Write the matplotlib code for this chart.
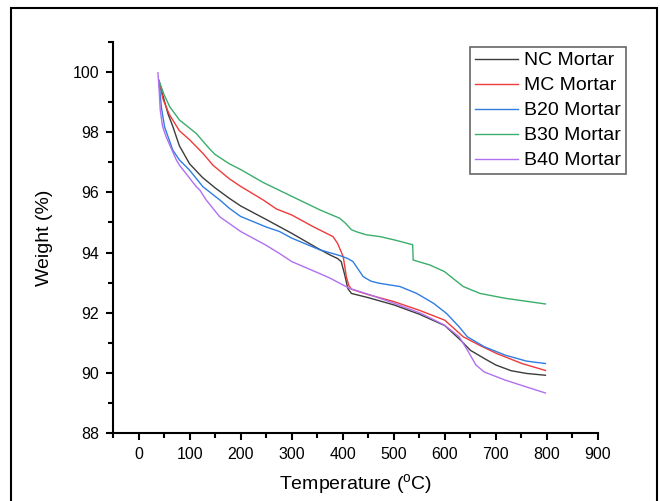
import matplotlib
matplotlib.use("Agg")
import matplotlib.pyplot as plt
from matplotlib.patches import Rectangle
from matplotlib.ticker import MultipleLocator

plt.rcParams['font.family'] = ['Liberation Sans', 'DejaVu Sans']

labels = ["NC Mortar", "MC Mortar", "B20 Mortar", "B30 Mortar", "B40 Mortar"]
colors = ["#3c3c3c", "#f03a3a", "#2f7de0", "#3aae6a", "#b070f0"]

nc_T = [40, 48, 58, 67, 80, 100, 125, 150, 178, 200, 250, 300, 350, 375, 390, 397, 404, 410, 417, 450, 500, 550, 600, 630, 650, 680, 700, 730, 760, 797]
nc_W = [99.72, 99.2, 98.6, 98.2, 97.55, 96.95, 96.5, 96.15, 95.8, 95.55, 95.1, 94.64, 94.15, 93.92, 93.8, 93.7, 93.25, 92.8, 92.64, 92.5, 92.26, 91.95, 91.57, 91.1, 90.75, 90.45, 90.26, 90.07, 89.98, 89.92]

mc_T = [40, 48, 60, 80, 100, 126, 146, 178, 200, 244, 270, 300, 342, 381, 390, 395, 401, 407, 412, 417, 450, 500, 550, 600, 636, 670, 702, 751, 797]
mc_W = [99.72, 99.1, 98.6, 98.05, 97.75, 97.3, 96.9, 96.45, 96.2, 95.75, 95.45, 95.25, 94.86, 94.53, 94.3, 94.1, 93.86, 93.2, 92.9, 92.78, 92.6, 92.37, 92.08, 91.75, 91.2, 90.9, 90.64, 90.31, 90.08]

b20_T = [40, 45, 51, 67, 80, 100, 126, 159, 178, 200, 250, 276, 300, 355, 394, 410, 420, 430, 440, 455, 471, 512, 545, 578, 603, 628, 644, 677, 718, 760, 797]
b20_W = [99.7, 98.8, 98.18, 97.41, 97.08, 96.74, 96.19, 95.75, 95.47, 95.2, 94.85, 94.7, 94.48, 94.09, 93.9, 93.8, 93.7, 93.45, 93.2, 93.05, 92.98, 92.87, 92.64, 92.31, 91.98, 91.53, 91.2, 90.87, 90.59, 90.39, 90.31]

b30_T = [40, 50, 61, 80, 113, 139, 150, 178, 200, 244, 300, 355, 394, 405, 417, 427, 446, 473, 501, 537, 538, 570, 599, 636, 669, 718, 797]
b30_W = [99.72, 99.25, 98.85, 98.41, 97.96, 97.45, 97.26, 96.95, 96.76, 96.33, 95.87, 95.42, 95.14, 94.98, 94.76, 94.69, 94.59, 94.53, 94.42, 94.26, 93.75, 93.59, 93.37, 92.87, 92.64, 92.48, 92.29]

b40_T = [38, 40, 42.5, 47, 54, 74, 80, 113, 120, 132, 159, 200, 248, 276, 300, 355, 375, 413, 454, 501, 553, 599, 628, 644, 661, 677, 718, 760, 797]
b40_W = [99.98, 99.5, 98.74, 98.2, 97.85, 97.08, 96.91, 96.19, 96.08, 95.76, 95.19, 94.7, 94.26, 93.97, 93.7, 93.3, 93.15, 92.81, 92.59, 92.31, 91.98, 91.59, 91.2, 90.76, 90.26, 90.03, 89.76, 89.53, 89.33]

series = [(nc_T, nc_W), (mc_T, mc_W), (b20_T, b20_W), (b30_T, b30_W), (b40_T, b40_W)]

fig = plt.figure(figsize=(6.6, 5.01), dpi=100)
ax = fig.add_axes([113/660, 1-433/501, (598-113)/660, (433-42)/501])

for (T, W), lab, c in zip(series, labels, colors):
    ax.plot(T, W, color=c, lw=1.0, label=lab)

ax.set_xlim(-50, 900)
ax.set_ylim(88, 101)
ax.set_xticks(range(0, 901, 100))
ax.set_yticks(range(88, 101, 2))
ax.xaxis.set_minor_locator(MultipleLocator(50))
ax.yaxis.set_minor_locator(MultipleLocator(1))
ax.spines['top'].set_visible(False)
ax.spines['right'].set_visible(False)
for s in ['left', 'bottom']:
    ax.spines[s].set_linewidth(1.5)
ax.tick_params(which='major', direction='out', length=5, width=1.5, labelsize=11.5, pad=5)
ax.tick_params(which='minor', direction='out', length=3.5, width=1.5)

ax.set_xlabel("Temperature ($\\mathregular{^{o}}$C)", fontsize=14, labelpad=7)
ax.set_ylabel("Weight (%)", fontsize=14, labelpad=14)

leg = ax.legend(loc='upper left', bbox_to_anchor=(470/660, 1-47/501), bbox_transform=fig.transFigure,
                fontsize=14, frameon=True, fancybox=False, borderpad=0.25, labelspacing=0.38,
                handlelength=2.2, handletextpad=0.35, borderaxespad=0)
leg.get_frame().set_edgecolor('#404040')
leg.get_frame().set_linewidth(1.2)

fig.patches.append(Rectangle((11/660, -0.02), (657-11)/660, 1.004, transform=fig.transFigure,
                             fill=False, edgecolor='black', linewidth=1.5))

fig.savefig("out.png", dpi=100)
